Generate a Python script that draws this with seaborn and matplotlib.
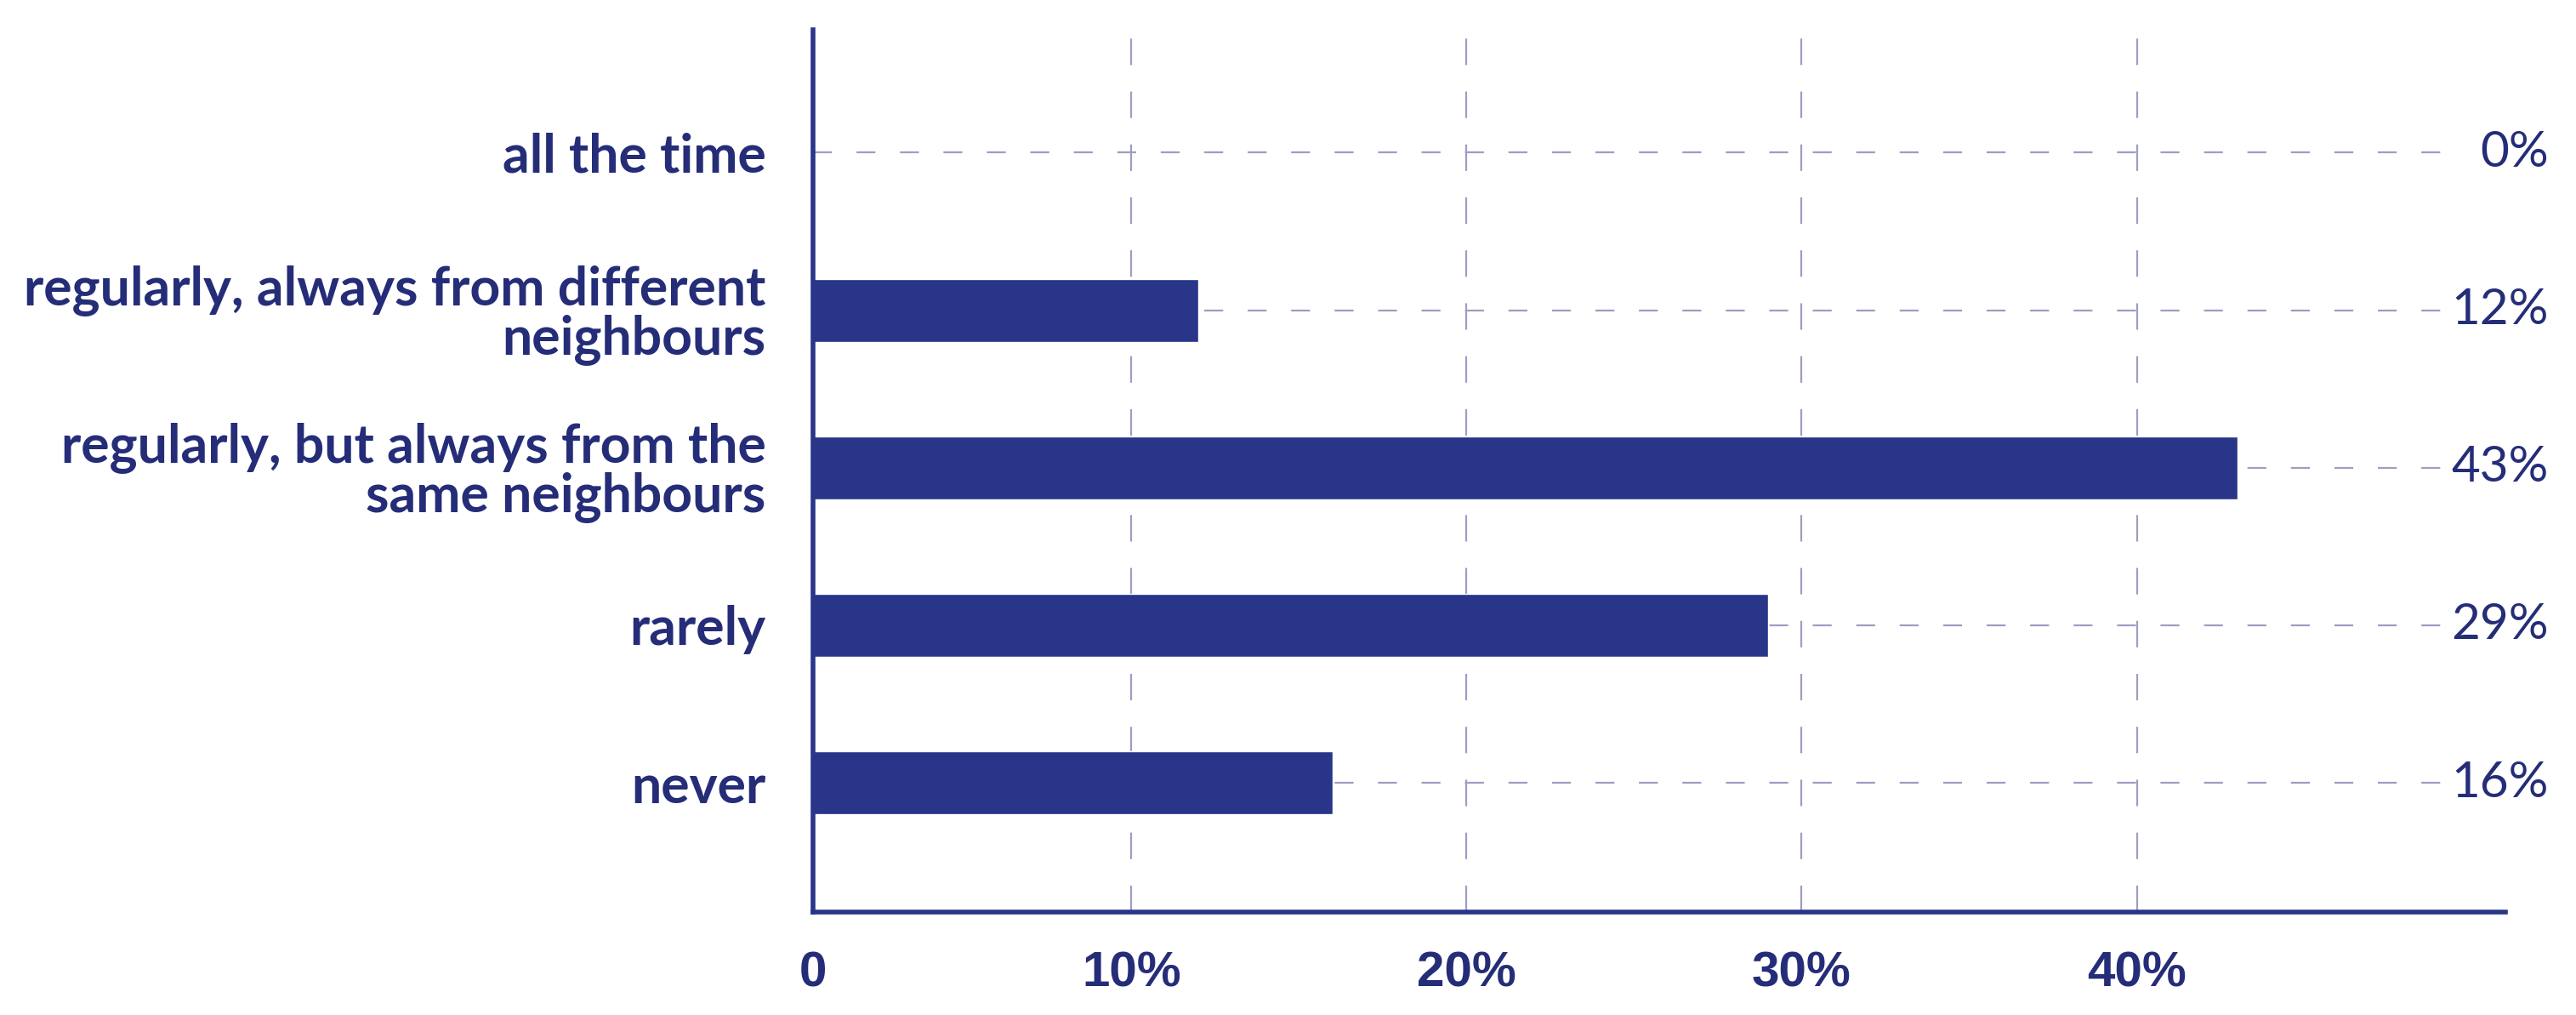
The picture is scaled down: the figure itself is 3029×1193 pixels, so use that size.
#!/usr/bin/env python3

import matplotlib
matplotlib.use('Agg')
import matplotlib.pyplot as plt
import matplotlib.transforms as mtransforms
import pandas as pd
import seaborn as sns

# -> DATA
categories = [
    'all the time',
    'regularly, always from different\nneighbours',
    'regularly, but always from the\nsame neighbours',
    'rarely',
    'never',
]
shares = [0, 12, 43, 29, 16]  # percent of respondents
xtick_values = [0.5, 10, 20, 30, 40]
xtick_labels = ['0', '10%', '20%', '30%', '40%']

df = pd.DataFrame({'answer': categories, 'share': shares})

# -> STYLE
NAVY = '#283588'
TEXT = '#252d78'
GRID = '#9c9ec2'

sns.set_theme(style='white')
plt.rcParams['font.family'] = ['Lato', 'DejaVu Sans']

fig = plt.figure(figsize=(30.29, 11.93), dpi=100)
ax = fig.add_axes([0.3156, 0.1014, 0.657, 0.8693])

sns.barplot(data=df, y='answer', x='share', orient='h', color=NAVY,
            saturation=1, width=0.4, ax=ax, zorder=3)

ax.set_xlim(0.5, 51)
ax.set_ylim(4.82, -0.78)

# vertical dashed grid
ax.set_xticks(xtick_values)
ax.set_xticklabels(xtick_labels)
ax.xaxis.grid(True, color=GRID, linewidth=1.6, linestyle=(0, (14, 14)), zorder=0)
ax.yaxis.grid(False)

# horizontal dashed guide for each answer, stopping short of the value label
for i in range(len(categories)):
    ax.axhline(i, xmin=0, xmax=0.966, color=GRID, linewidth=1.6,
               linestyle=(0, (10, 13)), zorder=1)

# spines
for side in ['top', 'right']:
    ax.spines[side].set_visible(False)
for side in ['left', 'bottom']:
    ax.spines[side].set_color(NAVY)
    ax.spines[side].set_linewidth(4)
    ax.spines[side].set_zorder(5)

ax.tick_params(axis='both', length=0)
ax.tick_params(axis='x', pad=33)
ax.tick_params(axis='y', pad=40)
ax.set_xlabel('')
ax.set_ylabel('')

for lbl in ax.get_yticklabels():
    lbl.set_fontsize(45)
    lbl.set_fontweight('bold')
    lbl.set_color(TEXT)
    lbl.set_multialignment('right')
    lbl.set_linespacing(0.95)

for lbl in ax.get_xticklabels():
    lbl.set_fontsize(42)
    lbl.set_fontweight('bold')
    lbl.set_color(TEXT)
    lbl.set_family(['Liberation Sans', 'DejaVu Sans'])

# value labels on the far right
trans = mtransforms.blended_transform_factory(fig.transFigure, ax.transData)
for i, v in enumerate(shares):
    ax.text(0.9894, i, f'{v}%', transform=trans, ha='right', va='center',
            fontsize=42, fontweight='normal', color=TEXT, clip_on=False)

plt.savefig('out.png', dpi=100)
